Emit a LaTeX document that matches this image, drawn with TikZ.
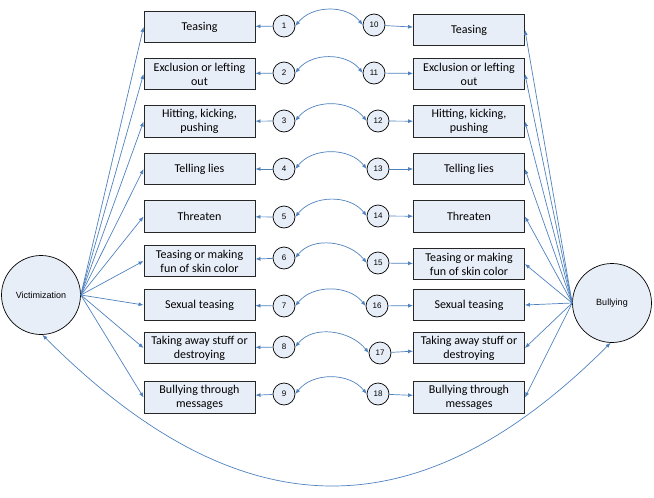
\documentclass[tikz,border=0pt]{standalone}
\usepackage{fontspec}
\setmainfont{Carlito}
\newfontfamily\arialfont{Liberation Sans}
\usetikzlibrary{arrows.meta}
\definecolor{boxfill}{HTML}{E8EEF8}
\definecolor{arr}{HTML}{4F81BD}
\definecolor{bord}{HTML}{262626}
\tikzset{
  item/.style={draw=bord, fill=boxfill, line width=0.9pt, minimum width=111pt, minimum height=31.5pt,
    inner sep=0pt, align=center, font=\fontsize{12}{14}\selectfont},
  num/.style={circle, draw=black, fill=boxfill, line width=0.7pt, minimum size=22pt, inner sep=0pt,
    font=\arialfont\fontsize{8}{9}\selectfont},
  lat/.style={circle, draw=black, fill=boxfill, line width=0.7pt, minimum size=79pt, inner sep=0pt,
    font=\arialfont\fontsize{9}{10}\selectfont},
  con/.style={draw=arr, line width=0.7pt, -{Latex[length=5pt,width=4pt]}},
  cov/.style={draw=arr, line width=0.7pt, {Latex[length=5pt,width=4pt]}-{Latex[length=5pt,width=4pt]}}
}
\begin{document}
\begin{tikzpicture}[x=1pt,y=1pt]
\useasboundingbox (0,0) rectangle (654,-498);
% latent variables
\node[lat] (vic) at (41,-295) {Victimization};
\node[lat] (bul) at (612,-303) {Bullying};
% left boxes
\node[item] (L1) at (199.5,-27) {Teasing};
\node[item] (L2) at (199.5,-74) {Exclusion or lefting\\out};
\node[item] (L3) at (199.5,-121.5) {Hitting, kicking,\\pushing};
\node[item] (L4) at (199.5,-169) {Telling lies};
\node[item] (L5) at (199.5,-216.5) {Threaten};
\node[item] (L6) at (199.5,-261) {Teasing or making\\fun of skin color};
\node[item] (L7) at (199.5,-305) {Sexual teasing};
\node[item] (L8) at (199.5,-348) {Taking away stuff or\\destroying};
\node[item] (L9) at (199.5,-397.5) {Bullying through\\messages};
% right boxes
\node[item] (R1) at (469,-30) {Teasing};
\node[item] (R2) at (469,-74) {Exclusion or lefting\\out};
\node[item] (R3) at (469,-121.5) {Hitting, kicking,\\pushing};
\node[item] (R4) at (469,-169) {Telling lies};
\node[item] (R5) at (469,-216.5) {Threaten};
\node[item] (R6) at (469,-264) {Teasing or making\\fun of skin color};
\node[item] (R7) at (469,-305) {Sexual teasing};
\node[item] (R8) at (469,-348) {Taking away stuff or\\destroying};
\node[item] (R9) at (469,-397.5) {Bullying through\\messages};
% error circles left
\node[num] (e1) at (284,-26) {1};
\node[num] (e2) at (284,-73) {2};
\node[num] (e3) at (284,-121) {3};
\node[num] (e4) at (284,-169) {4};
\node[num] (e5) at (284,-217) {5};
\node[num] (e6) at (284,-258) {6};
\node[num] (e7) at (284,-306) {7};
\node[num] (e8) at (284,-347) {8};
\node[num] (e9) at (284,-394) {9};
% error circles right
\node[num] (e10) at (374,-25) {10};
\node[num] (e11) at (374,-73) {11};
\node[num] (e12) at (378,-121) {12};
\node[num] (e13) at (378,-169) {13};
\node[num] (e14) at (378,-216) {14};
\node[num] (e15) at (378,-263) {15};
\node[num] (e16) at (377,-306) {16};
\node[num] (e17) at (380,-353) {17};
\node[num] (e18) at (378,-394) {18};
% loadings
\foreach \i in {1,...,9} {
  \draw[con] (vic.east) -- (L\i.west);
  \draw[con] (bul.west) -- (R\i.east);
  \draw[con] (e\i) -- (L\i);
}
\foreach \i/\j in {1/10,2/11,3/12,4/13,5/14,6/15,7/16,8/17,9/18} {
  \draw[con] (e\j) -- (R\i);
  \draw[cov] (e\i.east) to[out=52,in=128] (e\j.west);
}
% latent covariance
\draw[cov] (vic.-88) to[out=-45,in=-135,looseness=1.24] (bul.-92);
\end{tikzpicture}
\end{document}
